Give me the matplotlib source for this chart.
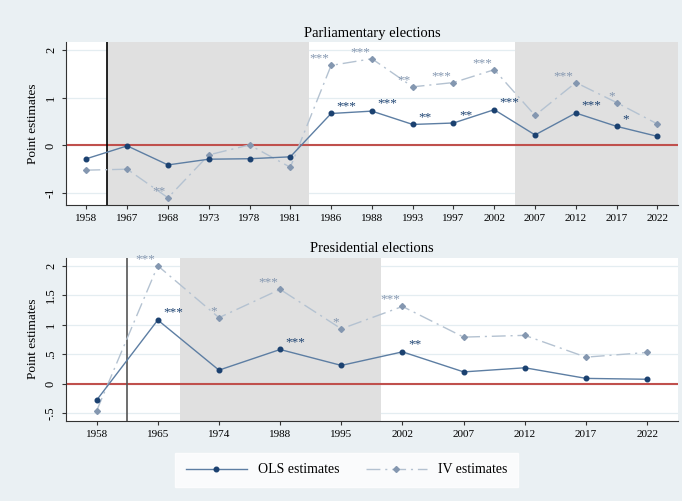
import numpy as np
import matplotlib.pyplot as plt

plt.rcParams['font.family'] = ['Liberation Serif', 'DejaVu Serif']

# parliamentary elections
parl_years = ['1958', '1967', '1968', '1973', '1978', '1981', '1986', '1988',
              '1993', '1997', '2002', '2007', '2012', '2017', '2022']
parl_ols = [-0.28, -0.01, -0.41, -0.29, -0.28, -0.24, 0.67, 0.72,
            0.44, 0.47, 0.75, 0.22, 0.68, 0.40, 0.19]
parl_iv = [-0.52, -0.50, -1.10, -0.20, 0.01, -0.46, 1.68, 1.82,
           1.23, 1.32, 1.59, 0.63, 1.32, 0.90, 0.45]
parl_ols_sig = ['', '', '', '', '', '', '***', '***', '**', '**', '***', '', '***', '*', '']
parl_iv_sig = ['', '', '**', '', '', '', '***', '***', '**', '***', '***', '', '***', '*', '']

# presidential elections
pres_years = ['1958', '1965', '1974', '1988', '1995', '2002', '2007', '2012', '2017', '2022']
pres_ols = [-0.28, 1.08, 0.23, 0.58, 0.31, 0.54, 0.20, 0.27, 0.09, 0.075]
pres_iv = [-0.46, 2.00, 1.12, 1.60, 0.93, 1.31, 0.79, 0.82, 0.45, 0.53]
pres_ols_sig = ['', '***', '', '***', '', '**', '', '', '', '']
pres_iv_sig = ['', '***', '*', '***', '*', '***', '', '', '', '']

bg = '#eaf0f3'
ols_line = '#5d7ea3'
ols_mark = '#1b4170'
iv_line = '#b4c2d1'
iv_mark = '#8497b0'
shade = '#e0e0e0'
grid = '#e4edf1'
zero = '#c0504d'

fig = plt.figure(figsize=(6.82, 5.01), dpi=100, facecolor=bg)
ax1 = fig.add_axes([0.0968, 0.591, 0.897, 0.325])
ax2 = fig.add_axes([0.0968, 0.160, 0.897, 0.326])


def panel(ax, years, ols, iv, ols_sig, iv_sig, title, yticks, ylabels,
          ylim, vline, shades, vcolor):
    x = np.arange(len(years))
    ax.set_xlim(-0.5, len(years) - 0.5)
    ax.set_ylim(*ylim)
    for yt in yticks:
        ax.axhline(yt, color=grid, lw=0.9, zorder=0)
    for a, b in shades:
        ax.axvspan(a, b, color=shade, lw=0, zorder=1)
    ax.axhline(0, color=zero, lw=1.5, zorder=2)
    ax.axvline(vline, color=vcolor, lw=1.2, zorder=2)
    l_ols, = ax.plot(x, ols, color=ols_line, lw=1.0, marker='o', ms=3.3,
                     mfc=ols_mark, mec=ols_mark, zorder=4, label='OLS estimates')
    l_iv, = ax.plot(x, iv, color=iv_line, lw=1.0, ls=(0, (10, 3.5, 1.5, 3.5)),
                    marker='D', ms=3.0, mfc=iv_mark, mec=iv_mark, zorder=3,
                    label='IV estimates')
    for xi, yi, s in zip(x, ols, ols_sig):
        if s:
            ax.annotate(s, (xi, yi), xytext=(4, 1), textcoords='offset points',
                        ha='left', va='bottom', fontsize=9.5, color=ols_mark, zorder=5)
    for xi, yi, s in zip(x, iv, iv_sig):
        if s:
            ax.annotate(s, (xi, yi), xytext=(-1.5, 0.5), textcoords='offset points',
                        ha='right', va='bottom', fontsize=9.5, color=iv_mark, zorder=5)
    ax.set_xticks(x)
    ax.set_xticklabels(years, fontsize=8)
    ax.set_yticks(yticks)
    ax.set_yticklabels(ylabels, fontsize=9, rotation=90, va='center')
    ax.set_ylabel('Point estimates', fontsize=9.5)
    ax.set_title(title, fontsize=10.5, pad=4)
    for sp in ['top', 'right']:
        ax.spines[sp].set_visible(False)
    ax.spines['left'].set_color('#333333')
    ax.spines['bottom'].set_color('#333333')
    ax.tick_params(length=3, width=0.8, color='#333333')
    ax.set_facecolor('white')
    return l_ols, l_iv


panel(ax1, parl_years, parl_ols, parl_iv, parl_ols_sig, parl_iv_sig,
      'Parliamentary elections', [-1, 0, 1, 2], ['-1', '0', '1', '2'],
      (-1.25, 2.17), 0.5, [(0.5, 5.47), (10.5, 14.5)], 'black')
h = panel(ax2, pres_years, pres_ols, pres_iv, pres_ols_sig, pres_iv_sig,
          'Presidential elections', [-0.5, 0, 0.5, 1, 1.5, 2],
          ['-.5', '0', '.5', '1', '1.5', '2'],
          (-0.63, 2.14), 0.5, [(1.36, 4.65)], '#555555')

leg = fig.legend(h, ['OLS estimates', 'IV estimates'], loc='center',
                 bbox_to_anchor=(0.508, 0.062), ncol=2, fontsize=10,
                 frameon=True, fancybox=False, edgecolor='white',
                 handlelength=4.4, columnspacing=1.9, borderpad=0.75,
                 handletextpad=0.8)
leg.get_frame().set_facecolor('white')

fig.savefig('out.png', dpi=100, facecolor=bg)
